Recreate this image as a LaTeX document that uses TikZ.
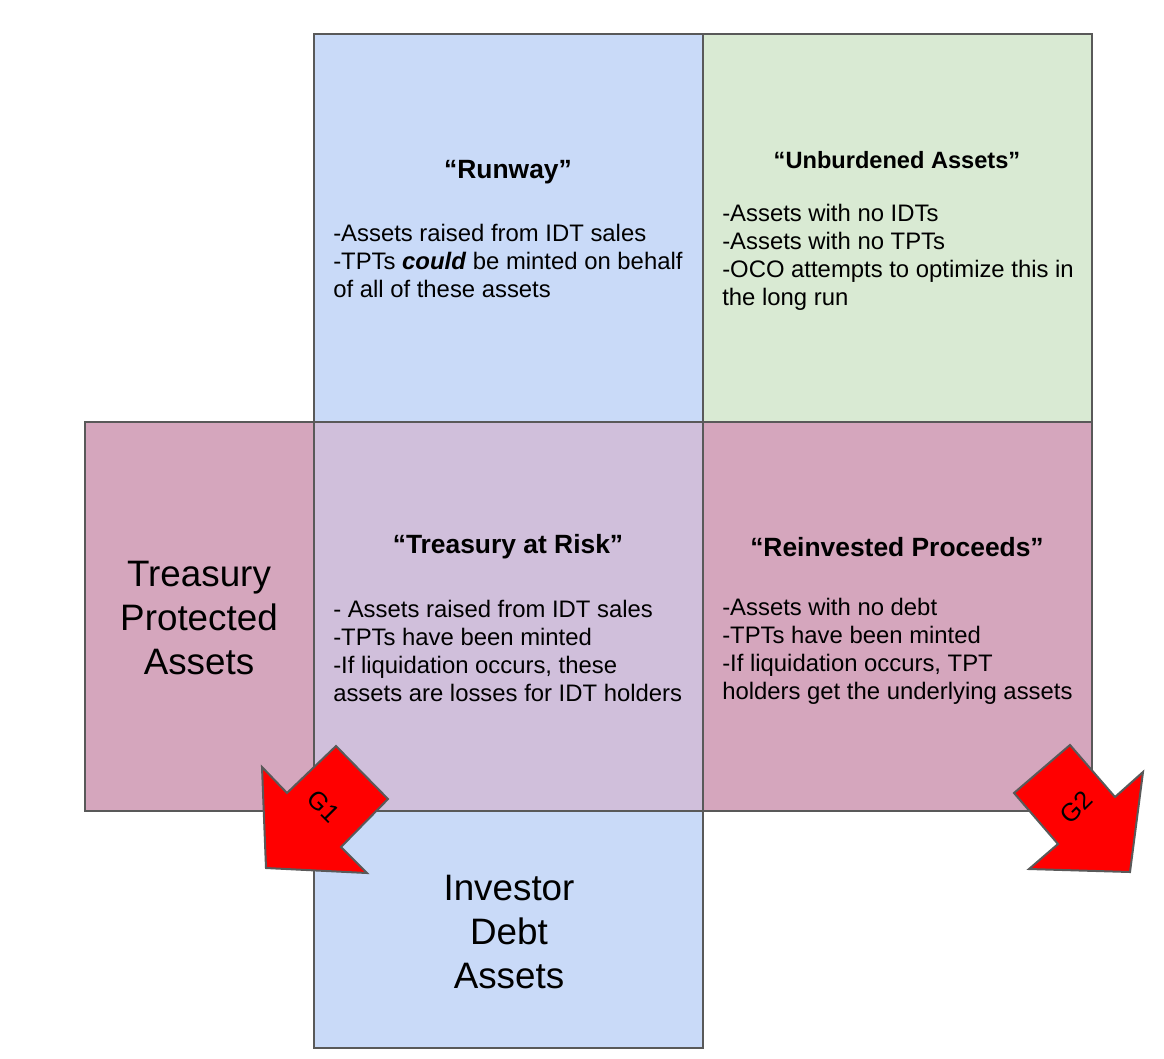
\documentclass[tikz,border=0pt]{standalone}
\usepackage{fontspec}
\setmainfont{Liberation Sans}
\begin{document}
\begin{tikzpicture}[x=0.75pt,y=-0.75pt,
  cell/.style={draw=black!65,line width=1.5pt,inner sep=0pt,outer sep=0pt,anchor=north west},
  body/.style={align=left,anchor=west,inner sep=0pt,font=\fontsize{17.9}{21}\selectfont},
  ttl/.style={inner sep=0pt,font=\fontsize{19.8}{22}\bfseries\selectfont},
  ttlsmall/.style={inner sep=0pt,font=\fontsize{17.7}{20}\bfseries\selectfont},
  big/.style={align=center,inner sep=0pt,font=\fontsize{27.6}{33}\selectfont},
  glabel/.style={inner sep=0pt,font=\fontsize{19}{20}\selectfont},
  garrow/.style={draw=black!65,line width=1.5pt,fill=red,line join=miter}]
\useasboundingbox (0,0) rectangle (1164,1058);
\definecolor{lblue}{HTML}{C9DAF8}
\definecolor{lgreen}{HTML}{D9EAD3}
\definecolor{lpink}{HTML}{D5A6BD}
\definecolor{lpurple}{HTML}{D0BFDB}
% boxes
\node[cell,fill=lblue,minimum width=389*0.75pt,minimum height=388*0.75pt] (runway) at (314,34) {};
\node[cell,fill=lgreen,minimum width=389*0.75pt,minimum height=388*0.75pt] (unb) at (703,34) {};
\node[cell,fill=lpink,minimum width=229*0.75pt,minimum height=389*0.75pt] (tpa) at (85,422) {};
\node[cell,fill=lpurple,minimum width=389*0.75pt,minimum height=389*0.75pt] (tar) at (314,422) {};
\node[cell,fill=lpink,minimum width=389*0.75pt,minimum height=389*0.75pt] (rp) at (703,422) {};
\node[cell,fill=lblue,minimum width=389*0.75pt,minimum height=237*0.75pt] (ida) at (314,811) {};
% texts
\node[ttl] (t1) at (508,172) {“Runway”};
\node[body] (b1) at (333,261) {-Assets raised from IDT sales\\-TPTs \textbf{\textit{could}} be minted on behalf\\of all of these assets};
\node[ttlsmall] (t2) at (897,160) {“Unburdened Assets”};
\node[body] (b2) at (722,257) {-Assets with no IDTs\\-Assets with no TPTs\\-OCO attempts to optimize this in\\the long run};
\node[ttl] (t3) at (508,547) {“Treasury at Risk”};
\node[body] (b3) at (333,651) {- Assets raised from IDT sales\\-TPTs have been minted\\-If liquidation occurs, these\\assets are losses for IDT holders};
\node[ttl] (t4) at (897,547) {“Reinvested Proceeds”};
\node[body] (b4) at (722,651) {-Assets with no debt\\-TPTs have been minted\\-If liquidation occurs, TPT\\holders get the underlying assets};
\node[big] (bt) at (199,618) {Treasury\\Protected\\Assets};
\node[big] (bi) at (509,932) {Investor\\Debt\\Assets};
% arrows
\draw[garrow] (266,868) -- (262,767) -- (287,793) -- (336,746) -- (388,799) -- (341,847) -- (367,873) -- cycle;
\node[glabel,rotate=-45] (g1) at (324,806) {G1};
\draw[garrow] (1130,872) -- (1029,869) -- (1058,844) -- (1014,793) -- (1070,745) -- (1115,797) -- (1143,772) -- cycle;
\node[glabel,rotate=45] (g2) at (1076,807) {G2};
\end{tikzpicture}
\end{document}
